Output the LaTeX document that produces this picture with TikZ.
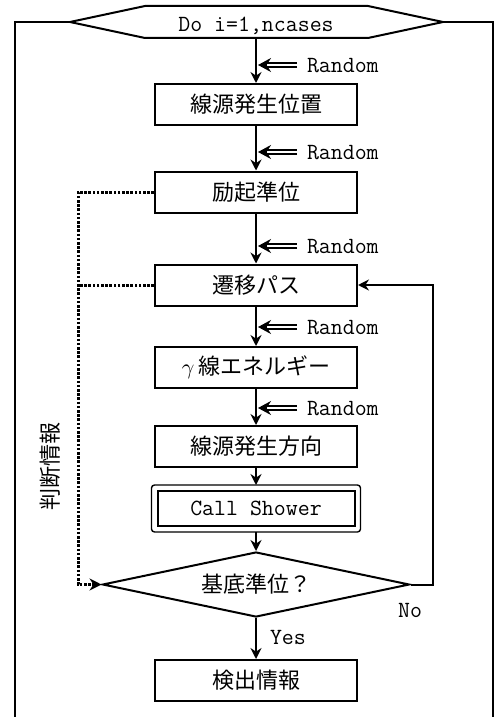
\documentclass[tikz,border=0pt]{standalone}
\usepackage{fontspec}
\newfontfamily\jp{Noto Sans CJK JP}
\usetikzlibrary{arrows.meta,calc,shapes.geometric}
\begin{document}
\begin{tikzpicture}[x=0.5pt,y=-0.5pt,line width=1pt,
  box/.style={draw,line width=1pt,minimum width=101pt,minimum height=20.5pt,inner sep=0pt,font=\jp\fontsize{11}{13}\selectfont},
  csbox/.style={draw,line width=1pt,minimum width=98.5pt,minimum height=17.5pt,inner sep=0pt,font=\ttfamily\fontsize{11.6}{13}\selectfont},
  dia/.style={draw,line width=1pt,shape=diamond,aspect=4.7,minimum width=153.5pt,minimum height=32.5pt,inner sep=0pt,font=\jp\fontsize{11}{13}\selectfont},
  lbl/.style={font=\ttfamily\fontsize{11.6}{13}\selectfont,inner sep=0pt},
  jlbl/.style={font=\jp\fontsize{11}{13}\selectfont,inner sep=0pt},
  arr/.style={line width=1pt,-{Stealth[length=5.5pt,width=5.5pt,inset=1.8pt]}},
  rnd/.style={double,double distance=1.4pt,line width=0.75pt,-{Stealth[length=6.5pt,width=7pt,inset=2.2pt]}},
  dotline/.style={line width=1.5pt,dash pattern=on 1.3pt off 0.8pt},
  dotarr/.style={dotline,-{Stealth[length=6pt,width=6pt,inset=2pt]}}
]
\useasboundingbox (0,0) rectangle (500,717);

% hexagon (loop start)
\coordinate (h1) at (70,22);
\coordinate (h2) at (145,6);
\coordinate (h3) at (368,6);
\coordinate (h4) at (443,22);
\coordinate (h5) at (368,38);
\coordinate (h6) at (145,38);
\draw[line width=1pt,line join=miter] (h1)--(h2)--(h3)--(h4)--(h5)--(h6)--cycle;
\node[lbl,anchor=base] (hex) at (256,32) {Do i=1,ncases};
\coordinate (hb) at (256,38);

% outer frame
\coordinate (fl) at (15,717);
\coordinate (fr) at (493,717);
\draw[line width=1pt] (fl) |- (h1);
\draw[line width=1pt] (fr) |- (h4);

% boxes
\node[box] (b1) at (256,104.5) {線源発生位置};
\node[box] (b2) at (256,192) {励起準位};
\node[box] (b3) at (256,285) {遷移パス};
\node[box] (b4) at (256,367.5) {$\gamma$\,線エネルギー};
\node[box] (b5) at (256,446.5) {線源発生方向};
\node[csbox] (cs) at (256,508.5) {Call Shower};
\draw[line width=0.7pt,rounded corners=1.5pt] ($(cs.north west)+(-5,-5)$) rectangle ($(cs.south east)+(5,5)$);
\node[dia] (d) at (256,584.5) {基底準位？};
\node[box] (b6) at (256,680.5) {検出情報};

% main flow
\draw[arr] (hb) -- (b1.north);
\draw[arr] (b1.south) -- (b2.north);
\draw[arr] (b2.south) -- (b3.north);
\draw[arr] (b3.south) -- (b4.north);
\draw[arr] (b4.south) -- (b5.north);
\draw[arr] (b5.south) -- ($(cs.north)+(0,-5)$);
\draw[arr] ($(cs.south)+(0,5)$) -- (d.north);
\draw[arr] (d.south) -- (b6.north);

% Random inputs
\foreach \i/\y in {1/65,2/152,3/246,4/327,5/408}{
  \node[lbl,anchor=west] (r\i) at (306,\y+1) {Random};
  \coordinate (c\i) at (258,\y);
  \coordinate (s\i) at (297,\y);
  \draw[rnd] (s\i) -- (c\i);
}

% No loop
\coordinate (lx) at (433,584.5);
\draw[arr] (d.east) -- (lx) |- (b3.east);
\node[lbl] (no) at (410,610) {No};
\node[lbl,anchor=west] (yes) at (269,637) {Yes};

% dotted judgement info
\coordinate (dx) at (78,584.5);
\draw[dotarr] (b2.west) -| (dx) -- (d.west);
\draw[dotline] (b3.west) -- (b3.west -| dx);
\node[jlbl,rotate=90] (info) at (50,466) {判断情報};
\end{tikzpicture}
\end{document}
